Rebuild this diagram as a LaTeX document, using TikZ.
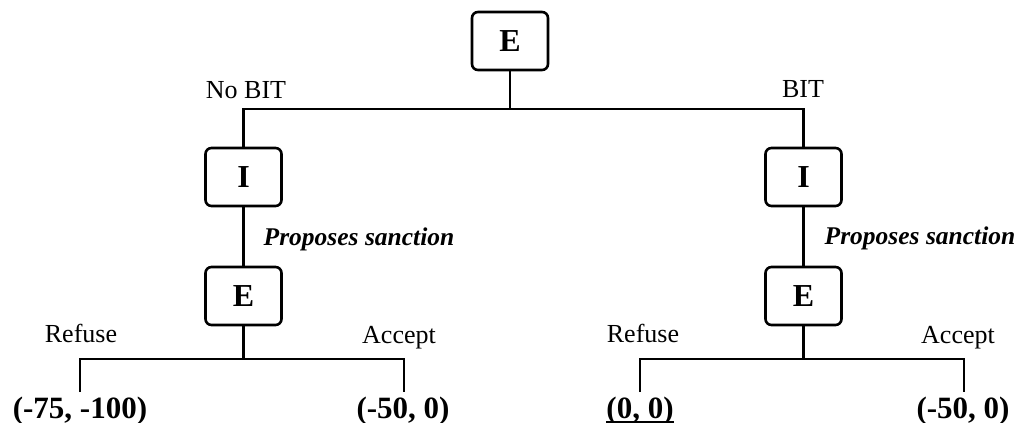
\documentclass[tikz,border=0pt]{standalone}
\usepackage{fontspec}
\setmainfont{Liberation Serif}
\usetikzlibrary{calc}
\begin{document}
\begin{tikzpicture}[x=1pt,y=-1pt,
  box/.style={draw,line width=2.6pt,rounded corners=6pt,minimum width=76pt,minimum height=58pt,inner sep=0pt,font=\fontsize{32}{32}\selectfont\bfseries},
  conn/.style={line width=2.8pt},
  lab/.style={anchor=base,inner sep=0pt,font=\fontsize{26}{26}\selectfont},
  act/.style={anchor=base,inner sep=0pt,font=\fontsize{25.5}{25.5}\selectfont\bfseries\itshape},
  pay/.style={anchor=base,inner sep=0pt,font=\fontsize{31}{31}\selectfont\bfseries}]
\useasboundingbox (0,0) rectangle (1021,423);
% boxes
\node[box] (E0) at (510,41) {E};
\node[box] (I1) at (243.5,177) {I};
\node[box] (I2) at (803.5,177) {I};
\node[box] (E1) at (243.5,296) {E};
\node[box] (E2) at (803.5,296) {E};
% junctions and leaves
\coordinate (j0) at (510,109);
\coordinate (j1) at (243.5,359);
\coordinate (j2) at (803.5,359);
\coordinate (a1) at (80,392);
\coordinate (a2) at (404,392);
\coordinate (a3) at (640,392);
\coordinate (a4) at (964,392);
% connectors
\draw[conn] (E0.south) -- (j0);
\draw[conn] (I1.north) |- (j0) -| (I2.north);
\draw[conn] (I1.south) -- (E1.north);
\draw[conn] (I2.south) -- (E2.north);
\draw[conn] (E1.south) -- (j1);
\draw[conn] (a1) |- (j1) -| (a2);
\draw[conn] (E2.south) -- (j2);
\draw[conn] (a3) |- (j2) -| (a4);
% labels
\node[lab] (nb) at (246,98) {No BIT};
\node[lab] (b) at (803,97) {BIT};
\node[act] (ps1) at (359,245) {Proposes sanction};
\node[act] (ps2) at (920,244) {Proposes sanction};
\node[lab] (r1) at (81,342) {Refuse};
\node[lab] (ac1) at (399,343) {Accept};
\node[lab] (r2) at (643,342) {Refuse};
\node[lab] (ac2) at (958,343) {Accept};
% payoffs
\node[pay] (p1) at (80,418) {(-75, -100)};
\node[pay] (p2) at (403,418) {(-50, 0)};
\node[pay] (p3) at (640,418) {(0, 0)};
\node[pay] (p4) at (963,418) {(-50, 0)};
\draw[line width=2pt] ($(p3.base west)+(0,3.5)$) -- ($(p3.base east)+(0,3.5)$);
\end{tikzpicture}
\end{document}
